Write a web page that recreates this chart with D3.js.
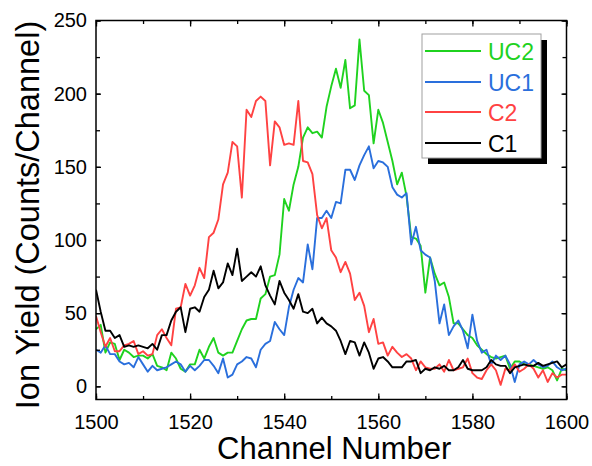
<!DOCTYPE html>
<html>
<head>
<meta charset="utf-8">
<script src="https://cdn.jsdelivr.net/npm/d3@7"></script>
<style>
  html, body { margin: 0; padding: 0; background: #fff; }
  svg { display: block; font-family: "Liberation Sans", Arial, sans-serif; }
</style>
</head>
<body>
<svg id="chart" width="592" height="466"></svg>
<script>
// Channel numbers 1500..1600, one count value per channel for each sample
const startChannel = 1500;

const uc2 = [39,42,23,30,29,18,25,23,20,21,21,19,22,14,13,11,23,19,12,10,
  15,15,25,19,27,33,23,21,23,23,31,39,45,46,46,60,63,75,76,90,
  128,120,138,150,170,177,173,174,170,191,205,217,204,223,190,192,237,202,199,166,
  189,180,167,154,138,146,130,102,101,96,64,88,77,69,71,61,43,43,39,35,
  33,28,25,22,20,19,20,21,12,17,17,15,15,14,13,12,13,11,4,12,11];

const uc1 = [25,23,28,22,22,17,15,16,13,20,15,10,14,11,12,13,15,17,15,10,
  14,11,14,18,18,14,9,19,6,8,15,17,20,19,13,25,29,31,44,39,
  35,54,66,74,71,97,80,115,115,120,115,126,125,148,148,141,151,158,164,149,
  154,153,150,136,131,129,132,97,109,93,90,88,72,43,56,35,41,45,38,26,
  49,31,23,25,15,21,18,21,15,3,15,17,15,18,15,13,14,17,13,11,12];

const c2 = [48,37,27,33,24,24,28,29,31,22,24,21,22,35,39,33,28,53,54,70,
  62,69,81,74,102,105,114,138,146,167,164,129,189,184,195,198,195,151,181,177,
  165,166,165,195,154,153,145,117,108,115,93,88,78,85,77,59,64,55,37,46,
  29,30,21,27,23,20,22,19,11,17,13,12,12,15,10,18,11,12,13,19,
  9,6,5,11,15,11,1,12,11,15,10,12,15,12,6,11,3,9,6,8,8];

const c1 = [66,51,38,38,33,35,27,28,27,28,27,26,29,25,35,35,45,51,54,37,
  53,54,51,61,66,79,67,71,84,76,94,72,75,78,75,82,69,62,56,72,
  64,59,53,63,51,50,53,43,47,43,41,38,31,22,31,30,21,30,23,12,
  19,20,17,13,13,13,17,17,18,9,12,11,13,12,14,11,11,13,18,12,
  11,11,11,13,18,15,14,14,9,13,14,15,14,14,16,14,15,16,17,13,15];

const seriesNames = ["UC2", "UC1", "C2", "C1"];
const seriesColors = ["#1fd21f", "#2a6fdc", "#ff4242", "#000000"];
const seriesValues = [uc2, uc1, c2, c1];

const xTicksMajor = [1500, 1520, 1540, 1560, 1580, 1600];
const yTicksMajor = [0, 50, 100, 150, 200, 250];

const xTitle = "Channel Number";
const yTitle = "Ion Yield (Counts/Channel)";

const svg = d3.select("#chart");
const frame = { left: 96, right: 566.5, top: 20.5, bottom: 399.5 };

const x = d3.scaleLinear().domain([1500, 1600]).range([frame.left, frame.right]);
const y = d3.scaleLinear().domain([-9, 250]).range([frame.bottom, frame.top]);

const plot = svg.append("g");

// data lines, clipped to the frame
svg.append("clipPath").attr("id", "clip")
  .append("rect").attr("x", frame.left).attr("y", frame.top)
  .attr("width", frame.right - frame.left).attr("height", frame.bottom - frame.top);

const line = d3.line()
  .x((d, i) => x(startChannel + i))
  .y(d => y(d));

const lines = plot.append("g").attr("clip-path", "url(#clip)");
seriesValues.forEach((vals, k) => {
  lines.append("path")
    .datum(vals)
    .attr("fill", "none")
    .attr("stroke", seriesColors[k])
    .attr("stroke-width", 1.9)
    .attr("stroke-linejoin", "round")
    .attr("d", line);
});

// axes with inward ticks on all four sides
const xMinor = d3.range(1500, 1601, 10);
const yMinor = d3.range(0, 251, 25);
const tickFont = 20;

function drawAxis(axis, transform, labels) {
  const g = plot.append("g").attr("transform", transform).call(axis);
  g.select(".domain").remove();
  g.selectAll("line").attr("stroke", "#000").attr("stroke-width", 1.3);
  g.selectAll("text").attr("font-size", tickFont)
    .attr("font-family", "Liberation Sans, Arial, sans-serif").attr("fill", "#000");
  if (!labels) g.selectAll("text").remove();
  return g;
}

// minor ticks
drawAxis(d3.axisBottom(x).tickValues(xMinor).tickSize(-3.5).tickFormat(""),
  `translate(0,${frame.bottom})`, false);
drawAxis(d3.axisTop(x).tickValues(xMinor).tickSize(-3.5).tickFormat(""),
  `translate(0,${frame.top})`, false);
drawAxis(d3.axisLeft(y).tickValues(yMinor).tickSize(-4).tickFormat(""),
  `translate(${frame.left},0)`, false);
drawAxis(d3.axisRight(y).tickValues(yMinor).tickSize(-4).tickFormat(""),
  `translate(${frame.right},0)`, false);

// major ticks with labels
drawAxis(d3.axisBottom(x).tickValues(xTicksMajor).tickSize(-6)
  .tickPadding(15).tickFormat(d3.format("d")), `translate(0,${frame.bottom})`, true);
drawAxis(d3.axisTop(x).tickValues(xTicksMajor).tickSize(-6).tickFormat(""),
  `translate(0,${frame.top})`, false);
drawAxis(d3.axisLeft(y).tickValues(yTicksMajor).tickSize(-5)
  .tickPadding(9).tickFormat(d3.format("d")), `translate(${frame.left},0)`, true);
drawAxis(d3.axisRight(y).tickValues(yTicksMajor).tickSize(-5).tickFormat(""),
  `translate(${frame.right},0)`, false);

// frame
plot.append("rect")
  .attr("x", frame.left).attr("y", frame.top)
  .attr("width", frame.right - frame.left).attr("height", frame.bottom - frame.top)
  .attr("fill", "none").attr("stroke", "#000").attr("stroke-width", 1.5);

// axis titles
svg.append("text")
  .attr("x", (frame.left + frame.right) / 2 + 3).attr("y", 459)
  .attr("text-anchor", "middle")
  .attr("font-size", 31).attr("fill", "#000")
  .text(xTitle);

svg.append("text")
  .attr("transform", `translate(39,215) rotate(-90)`)
  .attr("text-anchor", "middle")
  .attr("font-size", 32.5).attr("fill", "#000")
  .text(yTitle);

// legend with drop shadow
const lg = svg.append("g");
const lgX = 422, lgY = 34, lgW = 119, lgH = 124;
lg.append("rect").attr("x", lgX + 6).attr("y", lgY + 6)
  .attr("width", lgW).attr("height", lgH).attr("fill", "#000");
lg.append("rect").attr("x", lgX).attr("y", lgY)
  .attr("width", lgW).attr("height", lgH)
  .attr("fill", "#fff").attr("stroke", "#a0a0a0").attr("stroke-width", 1);

const rowY = [51, 82, 112, 143];
seriesNames.forEach((name, k) => {
  lg.append("line")
    .attr("x1", 425).attr("x2", 481)
    .attr("y1", rowY[k]).attr("y2", rowY[k])
    .attr("stroke", seriesColors[k]).attr("stroke-width", 2);
  lg.append("text")
    .attr("x", 488).attr("y", rowY[k] + 8.5)
    .attr("font-size", 23).attr("fill", seriesColors[k])
    .text(name);
});
</script>
</body>
</html>
